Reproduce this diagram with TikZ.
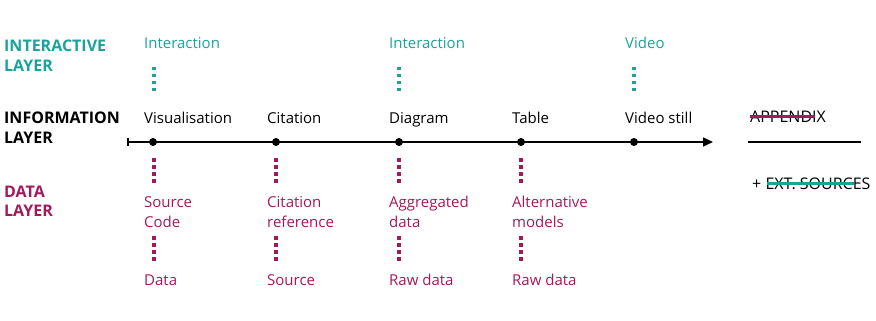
\documentclass[tikz,border=0pt]{standalone}
\usepackage{fontspec}
\setmainfont{Open Sans}
\usetikzlibrary{arrows.meta}
\definecolor{teal}{HTML}{1AA39A}
\definecolor{mag}{HTML}{A3195B}
\tikzset{
  lbl/.style={anchor=base west, inner sep=0pt, font=\fontsize{15}{20}\selectfont},
  rlbl/.style={anchor=base west, inner sep=0pt, font=\fontsize{16}{20}\selectfont},
  layer/.style={anchor=base west, inner sep=0pt, font=\fontsize{16}{20}\selectfont\bfseries, align=left},
  tlbl/.style={lbl, text=teal},
  mlbl/.style={lbl, text=mag},
  tdots/.style={draw=teal, line width=3.5pt, dash pattern=on 3.5pt off 3.5pt},
  mdots/.style={draw=mag, line width=3.5pt, dash pattern=on 3.5pt off 3.5pt},
  tdot/.style={circle, fill=black, inner sep=0pt, minimum size=8pt},
}
\begin{document}
\begin{tikzpicture}[x=1pt,y=-1pt]
\useasboundingbox (0,0) rectangle (876,321);
% layer labels
\node[layer, text=teal] (il1) at (4,52) {INTERACTIVE};
\node[layer, text=teal] (il2) at (4,72) {LAYER};
\node[layer] (nl1) at (4,123) {INFORMATION};
\node[layer] (nl2) at (4,143) {LAYER};
\node[layer, text=mag] (dl1) at (4,197) {DATA};
\node[layer, text=mag] (dl2) at (4,216) {LAYER};
% timeline
\coordinate (tstart) at (127,142);
\coordinate (tend) at (713,142);
\draw[line width=1.6pt, {Bar[width=8pt]}-{Triangle[length=10pt,width=9pt]}] (tstart) -- (tend);
\foreach \n/\x in {a/153,b/276,c/399,d/521,e/634}{
  \node[tdot] (p\n) at (\x,142) {};
}
% information layer labels
\node[lbl] (ia) at (144,123) {Visualisation};
\node[lbl] (ib) at (267,123) {Citation};
\node[lbl] (ic) at (389,123) {Diagram};
\node[lbl] (id) at (512,123) {Table};
\node[lbl] (ie) at (625,123) {Video still};
% interactive layer
\node[tlbl] (xa) at (144,49) {Interaction};
\node[tlbl] (xc) at (389,49) {Interaction};
\node[tlbl] (xe) at (625,49) {Video};
\foreach \n/\x in {a/154,c/399,e/634}{
  \coordinate (xt\n) at (\x,67);
  \coordinate (xb\n) at (\x,92);
  \draw[tdots] (xt\n) -- (xb\n);
}
% data layer
\node[mlbl] (da1) at (144,207) {Source};
\node[mlbl] (da2) at (144,227) {Code};
\node[mlbl] (da3) at (144,285) {Data};
\node[mlbl] (db1) at (267,207) {Citation};
\node[mlbl] (db2) at (267,227) {reference};
\node[mlbl] (db3) at (267,285) {Source};
\node[mlbl] (dc1) at (389,207) {Aggregated};
\node[mlbl] (dc2) at (389,227) {data};
\node[mlbl] (dc3) at (389,285) {Raw data};
\node[mlbl] (dd1) at (512,207) {Alternative};
\node[mlbl] (dd2) at (512,227) {models};
\node[mlbl] (dd3) at (512,285) {Raw data};
\foreach \n/\x in {a/154,b/276,c/399,d/521}{
  \coordinate (ut\n) at (\x,158);
  \coordinate (ub\n) at (\x,183);
  \coordinate (lt\n) at (\x,236);
  \coordinate (lb\n) at (\x,261);
  \draw[mdots] (ut\n) -- (ub\n);
  \draw[mdots] (lt\n) -- (lb\n);
}
% appendix
\node[rlbl] (app) at (750,122) {APPENDIX};
\draw[mag, line width=3pt] (750,116) -- (815,116);
\coordinate (al) at (748,142);
\coordinate (ar) at (861,142);
\draw[line width=1.6pt] (al) -- (ar);
\node[rlbl] (ext) at (752,189) {+ EXT. SOURCES};
\draw[teal, line width=3pt] (767,183) -- (854,183);
\end{tikzpicture}
\end{document}
